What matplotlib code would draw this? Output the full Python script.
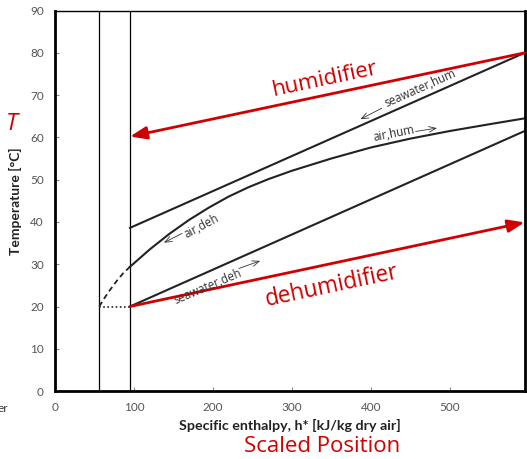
import numpy as np
import matplotlib
matplotlib.use("Agg")
import matplotlib.pyplot as plt

# Data
h_split = [56, 95]                       # vertical reference lines
sw_hum_h = [95, 595]
sw_hum_T = [38.6, 80.0]
sw_deh_h = [95, 595]
sw_deh_T = [20.0, 61.5]
air_dash_h = [56, 63, 70, 78, 86, 95]
air_dash_T = [20.0, 22.1, 24.0, 26.0, 27.8, 29.4]
air_h = [95, 120, 145, 170, 195, 220, 245, 270, 300, 350, 400, 450, 500, 550, 595]
air_T = [29.4, 33.5, 37.2, 40.5, 43.4, 46.0, 48.2, 50.1, 52.1, 55.0, 57.6,
         59.7, 61.5, 63.1, 64.5]
dot_h = [56, 95]
dot_T = [20, 20]
hum_arrow = [(595, 80.0), (95, 60.2)]    # (start, end)
deh_arrow = [(95, 20.0), (595, 39.9)]

red = "#d00000"
plt.rcParams['font.family'] = ['Lato', 'DejaVu Sans']

fig = plt.figure(figsize=(5.27, 4.59), dpi=100)
ax = fig.add_axes([0.1044, 0.148, 0.8910, 0.829])

# Reference lines and curves
for h in h_split:
    ax.plot([h, h], [0, 90], color="black", lw=0.9)
ax.plot(sw_hum_h, sw_hum_T, color="#222222", lw=1.5)
ax.plot(sw_deh_h, sw_deh_T, color="#222222", lw=1.5)
ax.plot(air_h, air_T, color="#222222", lw=1.5)
ax.plot(air_dash_h, air_dash_T, color="#222222", lw=1.3, ls=(0, (3, 2)))
ax.plot(dot_h, dot_T, color="#222222", lw=1.2, ls=(0, (1, 1.5)))

# Red process arrows
for start, end in (hum_arrow, deh_arrow):
    ax.annotate("", xy=end, xytext=start,
                arrowprops=dict(arrowstyle="-|>,head_length=1.0,head_width=0.38",
                                color=red, lw=2.0, shrinkA=0, shrinkB=0))

# Small stream labels with direction arrows
lab = dict(fontsize=8.3, color="#333333", ha="center", va="center",
           family=['Open Sans', 'DejaVu Sans'])
ax.text(463, 71.6, "seawater,hum", rotation=24, **lab)
ax.text(430, 60.8, "air,hum", rotation=11, **lab)
ax.text(186, 38.9, "air,deh", rotation=28, **lab)
ax.text(194, 24.6, "seawater,deh", rotation=23, **lab)
small = dict(arrowstyle="->,head_length=0.5,head_width=0.2", color="#333333",
             lw=0.6, shrinkA=0, shrinkB=0)
ax.annotate("", xy=(387, 64.3), xytext=(414, 66.9), arrowprops=small)
ax.annotate("", xy=(484, 62.2), xytext=(457, 61.4), arrowprops=small)
ax.annotate("", xy=(138, 35.1), xytext=(161, 37.3), arrowprops=small)
ax.annotate("", xy=(260, 30.8), xytext=(233, 29.0), arrowprops=small)

# Red labels
rl = dict(color=red, family=['Open Sans', 'DejaVu Sans'], ha="center", va="center")
ax.text(341, 73.8, "humidifier", fontsize=16, rotation=12, **rl)
ax.text(351, 24.8, "dehumidifier", fontsize=16.3, rotation=12, **rl)
fig.text(12 / 527, 1 - 124 / 459, "T", fontsize=17, style="italic", **rl)
fig.text(322 / 527, 1 - 447 / 459, "Scaled Position", fontsize=16, **rl)
fig.text(-2 / 527, 1 - 408 / 459, "er", fontsize=8.5, color="#333333",
         ha="left", va="center")

# Axes
ax.set_xlim(0, 595)
ax.set_ylim(0, 90)
ax.set_xticks(np.arange(0, 501, 100))
ax.set_yticks(np.arange(0, 91, 10))
ax.tick_params(direction="in", length=3, width=0.8, color="#888888",
               labelsize=8.5, labelcolor="#555555", pad=8)
for s in ("left", "bottom", "right"):
    ax.spines[s].set_linewidth(2.0)
ax.spines["top"].set_linewidth(1.0)
ax.set_xlabel("Specific enthalpy, h* [kJ/kg dry air]", fontsize=10.3,
              fontweight="bold", color="#222222", labelpad=4)
ax.set_ylabel("Temperature [°C]", fontsize=10, fontweight="bold",
              color="#222222", labelpad=6)

fig.savefig("out.png", dpi=100)
